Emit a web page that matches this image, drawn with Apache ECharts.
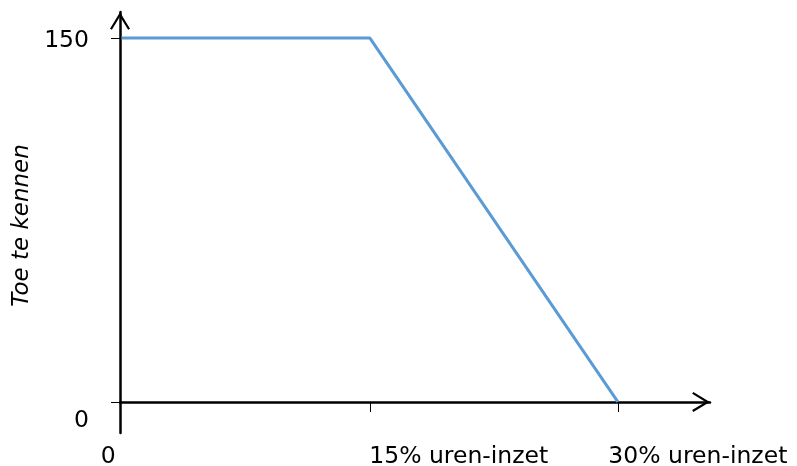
<!DOCTYPE html>
<html>
<head>
<meta charset="utf-8">
<script src="https://cdn.jsdelivr.net/npm/echarts@6/dist/echarts.min.js"></script>
<style>
  html, body { margin: 0; padding: 0; background: #ffffff; }
  #chart { width: 797px; height: 466px; }
</style>
</head>
<body>
<div id="chart"></div>
<script>
// ---- data ----
const xValues = [0, 15, 30];            // % uren-inzet
const yValues = [150, 150, 0];          // toe te kennen
const yTickValues = [0, 150];
const yLabelTexts = { 0: '0', 150: '150' };
const xTickValues = [15, 30];
const xLabelValues = [0, 15, 30];
const xLabelTexts = { 0: '0', 15: '15% uren-inzet', 30: '30% uren-inzet' };
const yAxisTitle = 'Toe te kennen';

const FONT = 'DejaVu Sans';
const arrowPath = 'path://M10 0L20 16.5L18.12 17.64L10 4.25L1.88 17.64L0 16.5Z';

const chart = echarts.init(document.getElementById('chart'), null, { renderer: 'canvas' });
chart.setOption({
  animation: false,
  backgroundColor: '#ffffff',
  grid: { left: 120, right: 87, top: 12, bottom: 33, containLabel: false, outerBoundsMode: 'none' },
  xAxis: {
    type: 'value',
    min: -0.1,
    max: 35.57,
    splitLine: { show: false },
    axisLine: {
      show: true, onZero: true,
      lineStyle: { color: '#000', width: 2.5 },
      symbol: ['none', arrowPath],
      symbolSize: [20, 18],
      symbolOffset: [0, -9]
    },
    axisTick: { show: true, customValues: xTickValues, length: 10, lineStyle: { color: '#000', width: 1 } },
    axisLabel: {
      show: true,
      customValues: xLabelValues,
      margin: 12,
      align: 'center',
      fontFamily: FONT, fontSize: 23.5, color: '#000',
      formatter: function (v) {
        const k = v === 0 ? 'a' : (v === 15 ? 'b' : 'c');
        return '{' + k + '|' + xLabelTexts[v] + '}';
      },
      rich: {
        a: { width: 42, align: 'left', fontFamily: FONT, fontSize: 23.5, color: '#000' },
        b: { width: 1, align: 'left', fontFamily: FONT, fontSize: 23.5, color: '#000' },
        c: { width: 19, align: 'left', fontFamily: FONT, fontSize: 23.5, color: '#000' }
      }
    }
  },
  yAxis: {
    type: 'value',
    min: -12.8,
    max: 160.7,
    splitLine: { show: false },
    name: yAxisTitle,
    nameLocation: 'middle',
    nameGap: 82,
    nameTextStyle: { fontFamily: FONT, fontSize: 23, fontStyle: 'italic', color: '#000', padding: [0, 6, 0, 0] },
    axisLine: {
      show: true, onZero: false,
      lineStyle: { color: '#000', width: 2.5 },
      symbol: ['none', arrowPath],
      symbolSize: [20, 18],
      symbolOffset: [0, -9]
    },
    axisTick: { show: true, customValues: yTickValues, length: 9, lineStyle: { color: '#000', width: 1 } },
    axisLabel: {
      show: true,
      customValues: yTickValues,
      margin: 31,
      fontFamily: FONT, fontSize: 23.5, color: '#000',
      formatter: function (v) {
        return v === 0 ? '{z|' + yLabelTexts[v] + '}' : '{n|' + yLabelTexts[v] + '}';
      },
      rich: {
        z: { padding: [38, 0, 0, 0], fontFamily: FONT, fontSize: 23.5, color: '#000' },
        n: { padding: [6, 0, 0, 0], fontFamily: FONT, fontSize: 23.5, color: '#000' }
      }
    }
  },
  series: [{
    type: 'line',
    data: xValues.map((x, i) => [x, yValues[i]]),
    symbol: 'none',
    lineStyle: { color: '#5B9BD5', width: 3 },
    z: 1
  }]
});
</script>
</body>
</html>
